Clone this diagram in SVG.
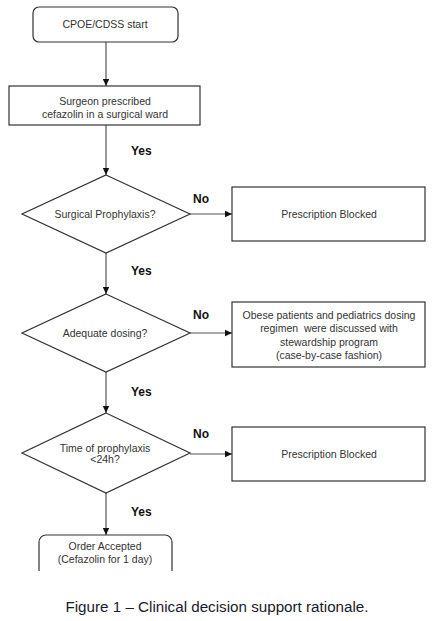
<svg xmlns="http://www.w3.org/2000/svg" width="448" height="621" viewBox="0 0 448 621">
<style>
.box{fill:#fff;stroke:#333;stroke-width:1.2}
.t{font-family:"Liberation Sans",Arial,sans-serif;font-size:10.5px;fill:#333;text-anchor:middle}
.lbl{font-family:"Liberation Sans",Arial,sans-serif;font-size:12px;font-weight:bold;fill:#111}
.ln{stroke:#555;stroke-width:1.2;fill:none;marker-end:url(#ah)}
</style>
<defs>
<marker id="ah" markerWidth="8" markerHeight="8" refX="7" refY="4" orient="auto" markerUnits="userSpaceOnUse">
<path d="M0,0.8 L7,4 L0,7.2 Z" fill="#111"/>
</marker>
<clipPath id="cl"><rect x="0" y="0" width="448" height="571"/></clipPath>
</defs>
<rect width="448" height="621" fill="#fff"/>
<g id="connectors">
<line class="ln" x1="106" y1="42" x2="106" y2="86"/>
<line class="ln" x1="106" y1="125" x2="106" y2="175"/>
<line class="ln" x1="106" y1="253" x2="106" y2="294"/>
<line class="ln" x1="106" y1="372" x2="106" y2="413"/>
<line class="ln" x1="106" y1="493" x2="106" y2="535"/>
<line class="ln" x1="190" y1="214" x2="232" y2="214"/>
<line class="ln" x1="190" y1="333" x2="232" y2="333"/>
<line class="ln" x1="190" y1="454" x2="232" y2="454"/>
<text class="lbl" x="131" y="155">Yes</text>
<text class="lbl" x="131" y="275">Yes</text>
<text class="lbl" x="131" y="396">Yes</text>
<text class="lbl" x="131" y="516">Yes</text>
<text class="lbl" x="193" y="203">No</text>
<text class="lbl" x="193" y="319">No</text>
<text class="lbl" x="193" y="438">No</text>
</g>
<g id="start">
<rect class="box" x="33" y="7" width="145" height="35" rx="6"/>
<text class="t" x="105" y="28">CPOE/CDSS start</text>
</g>
<g id="prescribed">
<rect class="box" x="9" y="86" width="191" height="39"/>
<text class="t" x="105" y="105">Surgeon prescribed</text>
<text class="t" x="105" y="118">cefazolin in a surgical ward</text>
</g>
<g id="d1">
<polygon class="box" points="106,175 190,214 106,253 22,214"/>
<text class="t" x="105" y="218">Surgical Prophylaxis?</text>
</g>
<g id="blocked1">
<rect class="box" x="232" y="187" width="193" height="54"/>
<text class="t" x="329" y="218">Prescription Blocked</text>
</g>
<g id="d2">
<polygon class="box" points="106,294 190,333 106,372 22,333"/>
<text class="t" x="105" y="337">Adequate dosing?</text>
</g>
<g id="discussed">
<rect class="box" x="232" y="302" width="193" height="65"/>
<text class="t" x="329" y="319">Obese patients and pediatrics dosing</text>
<text class="t" x="329" y="332" xml:space="preserve">regimen  were discussed with</text>
<text class="t" x="329" y="346">stewardship program</text>
<text class="t" x="329" y="359">(case-by-case fashion)</text>
</g>
<g id="d3">
<polygon class="box" points="106,413 190,453 106,493 22,453"/>
<text class="t" x="105" y="452">Time of prophylaxis</text>
<text class="t" x="105" y="463">&lt;24h?</text>
</g>
<g id="blocked2">
<rect class="box" x="232" y="427" width="193" height="54"/>
<text class="t" x="329" y="458">Prescription Blocked</text>
</g>
<g id="accepted">
<rect class="box" x="39" y="535" width="133" height="42" rx="7" clip-path="url(#cl)"/>
<text class="t" x="105" y="550">Order Accepted</text>
<text class="t" x="105" y="563">(Cefazolin for 1 day)</text>
</g>
<text x="217" y="612" font-family="'Liberation Sans',Arial,sans-serif" font-size="15.2" fill="#1a1a2a" text-anchor="middle">Figure 1 – Clinical decision support rationale.</text>
</svg>
